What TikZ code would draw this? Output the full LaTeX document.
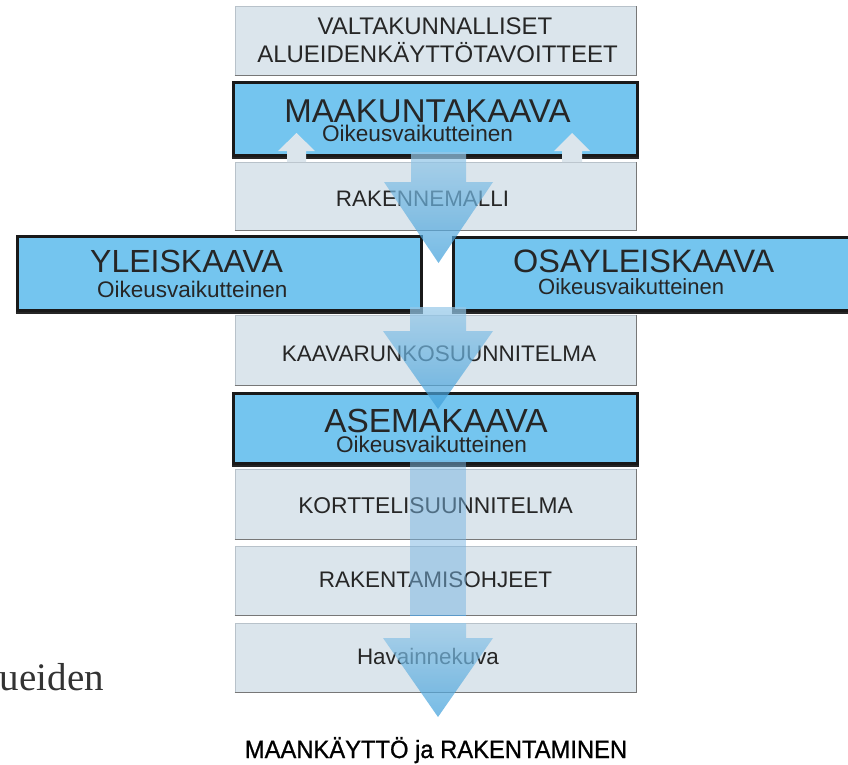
\documentclass[tikz,border=0pt]{standalone}
\usepackage{fontspec}
\setmainfont{Liberation Sans}
\newfontfamily\serifface{Liberation Serif}
\newfontfamily\heavyface[FakeBold=0.9]{Liberation Sans}
\usepackage{graphicx}
\definecolor{boxgray}{HTML}{DBE5EC}
\definecolor{boxedge}{HTML}{B8C2CA}
\definecolor{boxshadow}{HTML}{777777}
\definecolor{bluefill}{HTML}{74C5EF}
\definecolor{txtcol}{HTML}{262626}
\definecolor{arrtop}{RGB}{150,200,232}
\definecolor{arrbot}{RGB}{60,158,218}
\definecolor{shaftcol}{RGB}{120,180,225}
\definecolor{shaftedge}{RGB}{85,155,208}
\tikzset{
  lightbox/.style={rectangle, fill=boxgray, draw=boxedge, line width=0.8pt, inner sep=0pt},
  bluebox/.style={rectangle, fill=bluefill, draw=black!90, line width=3pt, inner sep=0pt},
  shadowline/.style={draw=boxshadow, line width=1.6pt},
  blueshadow/.style={draw=black!85, line width=2pt},
  txt/.style={inner sep=0pt, text=txtcol, anchor=base},
  titletxt/.style={txt, text depth=0pt},
  subtxt/.style={txt, text height=13pt},
  uparrow/.style={fill=boxgray, draw=none},
  downarrow/.style={top color=arrtop, bottom color=arrbot, fill opacity=0.7, draw=none},
  shaftbar/.style={fill=shaftcol, fill opacity=0.5, draw=none},
}
\newcommand{\fsz}[1]{\fontsize{#1}{#1}\selectfont}
\begin{document}
\begin{tikzpicture}[x=1pt,y=-1pt]
\useasboundingbox (0,0) rectangle (848,765);
% light boxes
\node[lightbox, minimum width=401pt, minimum height=69pt] (valta) at (435.5,40.5) {};
\node[lightbox, minimum width=401pt, minimum height=68pt] (rake) at (435.5,196) {};
\node[lightbox, minimum width=401pt, minimum height=70pt] (kaava) at (435.5,350) {};
\node[lightbox, minimum width=401pt, minimum height=70pt] (kortteli) at (435.5,504) {};
\node[lightbox, minimum width=401pt, minimum height=69pt] (rakoh) at (435.5,580.5) {};
\node[lightbox, minimum width=401pt, minimum height=69pt] (havain) at (435.5,657.5) {};
\foreach \n in {valta,rake,kaava,kortteli,rakoh,havain}{
  \draw[shadowline] (\n.south west) -- (\n.south east) -- (\n.north east);
}
% blue boxes
\node[bluebox, minimum width=404pt, minimum height=72pt] (maak) at (435,119) {};
\node[bluebox, minimum width=404pt, minimum height=74pt] (yleis) at (219,273) {};
\node[bluebox, minimum width=404pt, minimum height=73pt] (osay) at (655,273.5) {};
\node[bluebox, minimum width=404pt, minimum height=70pt] (asema) at (435,428) {};
\foreach \n in {maak,yleis,osay,asema}{
  \draw[blueshadow] ([yshift=-1.5pt]\n.south west) -- ([yshift=-1.5pt]\n.south east);
}
% up arrows
\fill[uparrow] (287,162) -- (287,151) -- (278,151) -- (296.5,133) -- (315,151) -- (306,151) -- (306,162) -- cycle;
\fill[uparrow] (562,162) -- (562,151) -- (554,151) -- (572,133) -- (590,151) -- (582,151) -- (582,162) -- cycle;
% texts
\node[txt] (valtaA) at (435,35) {\fsz{24}VALTAKUNNALLISET};
\node[txt] (valtaB) at (437.5,63) {\fsz{24}ALUEIDENKÄYTTÖTAVOITTEET};
\node[titletxt] (maakT) at (427.5,122) {\fsz{33}MAAKUNTAKAAVA};
\node[subtxt] (maakS) at (417.5,142) {\fsz{22.6}Oikeusvaikutteinen};
\node[txt] (rakeT) at (422.5,206) {\fsz{22.4}RAKENNEMALLI};
\node[titletxt, anchor=base west] (yleisT) at (90,272) {\fsz{32}YLEISKAAVA};
\node[subtxt, anchor=base west] (yleisS) at (97,297) {\fsz{22.5}Oikeusvaikutteinen};
\node[titletxt, anchor=base west] (osayT) at (513,272) {\fsz{32.4}OSAYLEISKAAVA};
\node[subtxt, anchor=base west] (osayS) at (538,294) {\fsz{22}Oikeusvaikutteinen};
\node[txt] (kaavaT) at (439,361) {\fsz{22.5}KAAVARUNKOSUUNNITELMA};
\node[titletxt] (asemaT) at (436,432) {\fsz{33.4}ASEMAKAAVA};
\node[subtxt] (asemaS) at (431.5,452) {\fsz{22.6}Oikeusvaikutteinen};
\node[txt] (korttT) at (435.5,513) {\fsz{22.8}KORTTELISUUNNITELMA};
\node[txt] (rakohT) at (435.5,587) {\fsz{22.5}RAKENTAMISOHJEET};
\node[txt] (havT) at (428,664) {\fsz{22.4}Havainnekuva};
\node[txt, text=black] (bottom) at (436,758) {\heavyface\fsz{25}\scalebox{0.95}[1]{MAANKÄYTTÖ ja RAKENTAMINEN}};
\node[txt, anchor=base east, text=black!80] (ueiden) at (104,690) {\serifface\fsz{39}ueiden};
% down arrows
\shade[downarrow] (411,152) -- (466,152) -- (466,182) -- (493,182) -- (438.5,263) -- (384,182) -- (411,182) -- cycle;
\shade[downarrow] (410,307) -- (466,307) -- (466,331) -- (493,331) -- (438,409) -- (383,331) -- (410,331) -- cycle;
\fill[shaftbar] (410,460) rectangle (466,616);
\draw[shaftedge, line width=1.5pt, opacity=0.8] (410,615.5) -- (466,615.5);
\shade[downarrow] (410,623) -- (466,623) -- (466,638) -- (493,638) -- (438,717) -- (383,638) -- (410,638) -- cycle;
\end{tikzpicture}
\end{document}
